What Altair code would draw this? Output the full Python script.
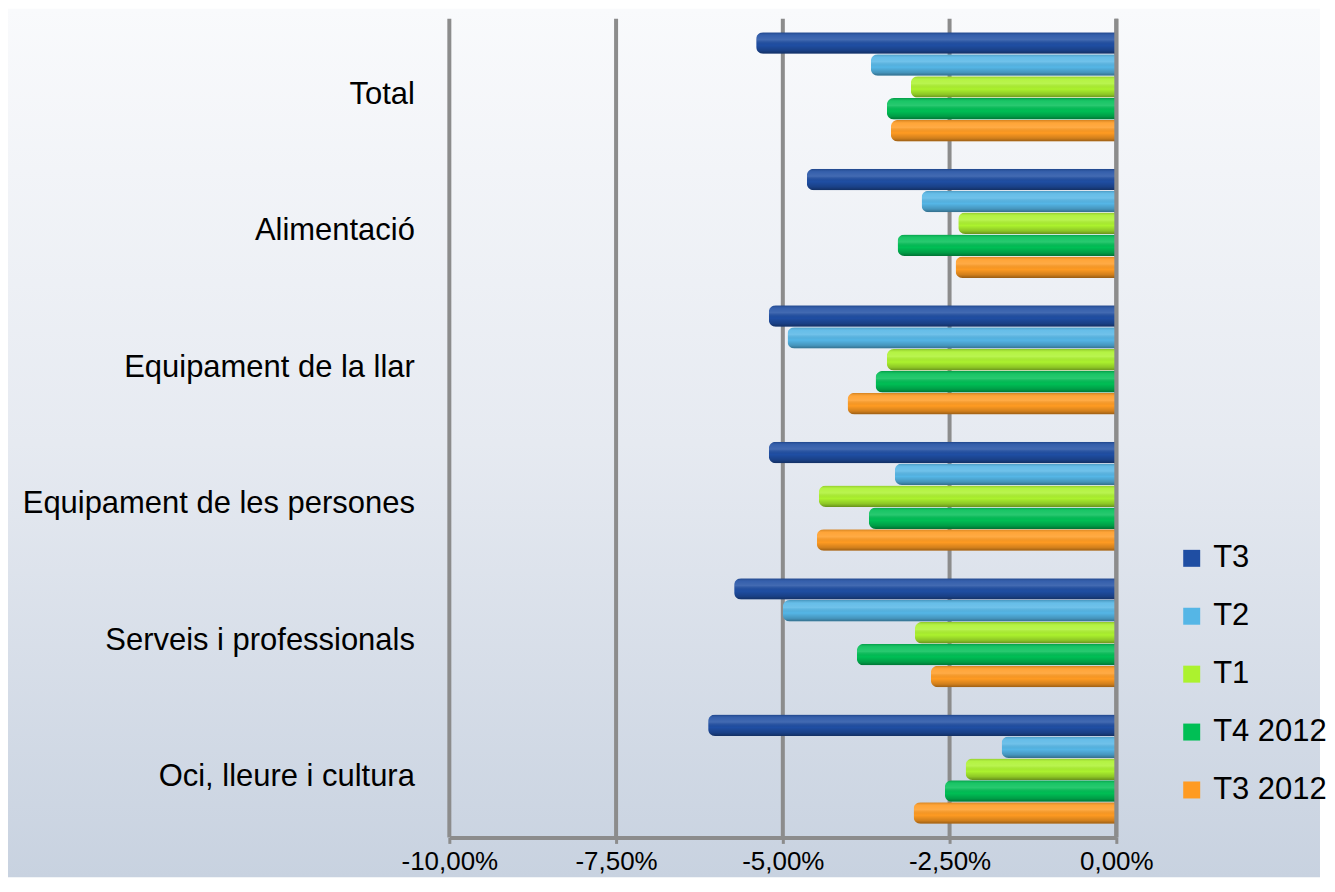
import altair as alt
import pandas as pd

CATEGORIES = ["Total", "Alimentació", "Equipament de la llar",
              "Equipament de les persones", "Serveis i professionals",
              "Oci, lleure i cultura"]
SERIES = ["T3", "T2", "T1", "T4 2012", "T3 2012"]
COLORS = ["#1f4ea3", "#55b6e6", "#acf22e", "#00bf55", "#ff9b22"]

T3 = [-5.40, -4.64, -5.21, -5.21, -5.73, -6.12]
T2 = [-3.68, -2.92, -4.93, -3.32, -5.00, -1.72]
T1 = [-3.08, -2.37, -3.44, -4.46, -3.02, -2.26]
T4_2012 = [-3.44, -3.28, -3.61, -3.71, -3.89, -2.57]
T3_2012 = [-3.38, -2.41, -4.03, -4.49, -2.78, -3.04]

TICKS = [-10.0, -7.5, -5.0, -2.5, 0.0]
TICK_LABELS = ["-10,00%", "-7,50%", "-5,00%", "-2,50%", "0,00%"]

series_values = [T3, T2, T1, T4_2012, T3_2012]
rows = []
for s, vals in zip(SERIES, series_values):
    for c, v in zip(CATEGORIES, vals):
        rows.append({"Category": c, "Series": s, "Value": v})
df = pd.DataFrame(rows)
grid_df = pd.DataFrame({"v": TICKS})
zero_df = pd.DataFrame({"v": [0.0]})

label_expr = ""
for t, lab in zip(TICKS, TICK_LABELS):
    label_expr += f"datum.value == {t} ? '{lab}' : "
label_expr += "''"

W, H = 668, 820
FONT = "Liberation Sans"
GREY = "#8c8c8c"

x_scale = alt.Scale(domain=[-10, 0], nice=False, zero=False)

bg_grad = alt.LinearGradient(
    gradient="linear", x1=0, x2=0, y1=0, y2=1,
    stops=[alt.GradientStop(color="#f9fafc", offset=0),
           alt.GradientStop(color="#e6eaf1", offset=0.5),
           alt.GradientStop(color="#c8d2e0", offset=1)])

bar_grad = alt.LinearGradient(
    gradient="linear", x1=0, x2=0, y1=0, y2=1,
    stops=[alt.GradientStop(color="rgba(0,0,0,0.18)", offset=0),
           alt.GradientStop(color="rgba(255,255,255,0.10)", offset=0.15),
           alt.GradientStop(color="rgba(255,255,255,0.16)", offset=0.35),
           alt.GradientStop(color="rgba(0,0,0,0.0)", offset=0.6),
           alt.GradientStop(color="rgba(0,0,0,0.18)", offset=0.85),
           alt.GradientStop(color="rgba(0,0,0,0.40)", offset=1)])

bg = alt.Chart(alt.Data(values=[{"a": 1}])).mark_rect(fill=bg_grad).encode(
    x=alt.value(-442), x2=alt.value(872), y=alt.value(-10), y2=alt.value(860))

grid = alt.Chart(grid_df).mark_rule(color=GREY, strokeWidth=4).encode(
    x=alt.X("v:Q", scale=x_scale))

y_enc = alt.Y("Category:N", sort=CATEGORIES,
              scale=alt.Scale(paddingInner=0.2, paddingOuter=0.1),
              axis=alt.Axis(title=None, labelFontSize=31, labelPadding=35,
                            labelOffset=8, ticks=False, domain=False, zindex=1,
                            labelLimit=700, labelColor="black", labelFont=FONT))
yoff_enc = alt.YOffset("Series:N", sort=SERIES, scale=alt.Scale(paddingInner=0.02))
x_enc = alt.X("Value:Q", scale=x_scale,
              axis=alt.Axis(title=None, values=TICKS, labelExpr=label_expr,
                            grid=False, domainColor=GREY, domainWidth=4,
                            tickColor=GREY, tickWidth=3, tickSize=6, zindex=1,
                            labelFontSize=26, labelPadding=5, labelFlush=False,
                            labelOverlap=False, labelColor="black", labelFont=FONT))

bars = alt.Chart(df).mark_bar(cornerRadiusTopLeft=7, cornerRadiusBottomLeft=7).encode(
    y=y_enc, yOffset=yoff_enc, x=x_enc,
    color=alt.Color("Series:N", sort=SERIES,
                    scale=alt.Scale(domain=SERIES, range=COLORS),
                    legend=alt.Legend(title=None, orient="none", legendX=728, legendY=525,
                                      symbolType="square", symbolSize=289,
                                      symbolStrokeWidth=0, labelFontSize=31,
                                      labelFont=FONT, labelColor="black",
                                      labelOffset=6, rowPadding=26, padding=0)))

shade = alt.Chart(df).mark_bar(cornerRadiusTopLeft=7, cornerRadiusBottomLeft=7,
                               fill=bar_grad).encode(
    y=y_enc, yOffset=yoff_enc, x=x_enc)

zero = alt.Chart(zero_df).mark_rule(color=GREY, strokeWidth=4).encode(
    x=alt.X("v:Q", scale=x_scale))

chart = alt.layer(bg, grid, bars, shade, zero).properties(
    width=W, height=H, padding=0
).configure_view(stroke=None).configure(background="white")

chart.save("out.html", embed_options={"renderer": "svg", "actions": False})
